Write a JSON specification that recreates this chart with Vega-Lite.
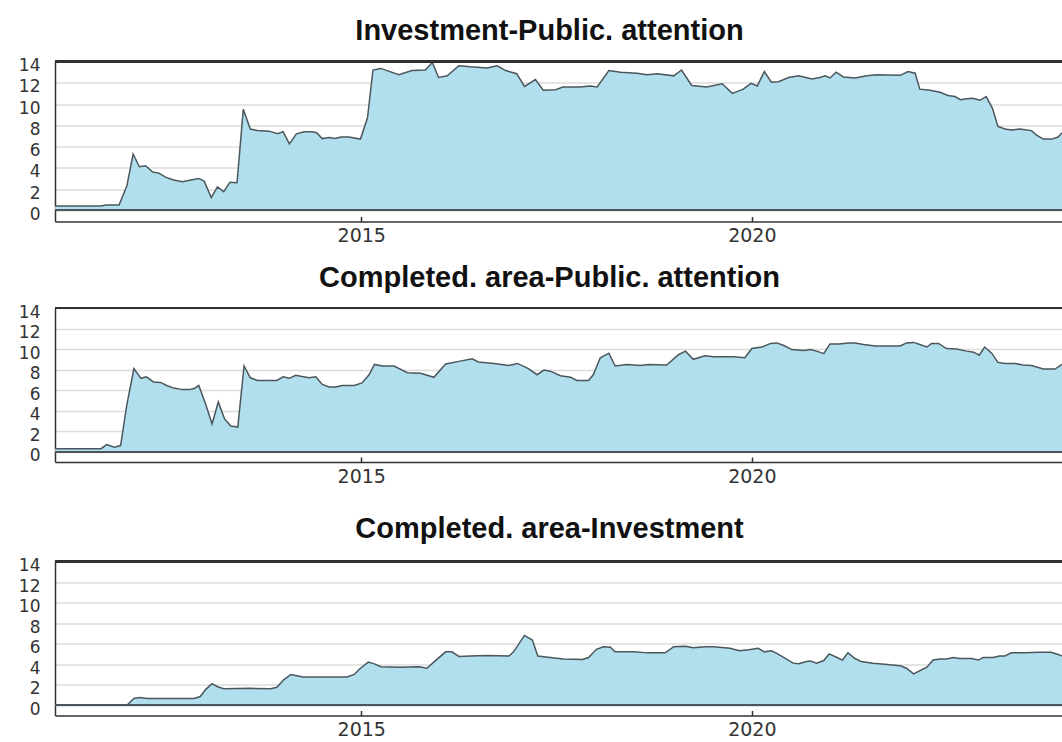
{
  "$schema": "https://vega.github.io/schema/vega-lite/v6.json",
  "background": "white",
  "padding": {"left": 18, "top": 16.5, "right": 0, "bottom": 0},
  "spacing": 18.5,
  "bounds": "full",
  "config": {
    "view": {"stroke": null},
    "title": {"font": "Liberation Sans", "fontSize": 29, "fontWeight": "bold", "color": "#111", "anchor": "middle", "frame": "group", "dx": -9},
    "axisY": {"grid": true, "gridColor": "#dcdcdc", "gridWidth": 1.5, "domain": true, "domainColor": "#333", "domainWidth": 1.5, "ticks": false, "labelFont": "DejaVu Sans", "labelFontSize": 17, "labelColor": "#333", "labelPadding": 15, "labelOffset": 4, "labelBaseline": "middle"},
    "axisX": {"grid": false, "domain": true, "domainColor": "#333", "domainWidth": 1.5, "ticks": true, "tickSize": -5, "tickColor": "#333", "tickWidth": 1.5, "labelFont": "DejaVu Sans", "labelFontSize": 19, "labelColor": "#333", "labelPadding": 10}
  },
  "datasets": {
    "p1": [
      {"t": 2011.08, "v": 0.4}, {"t": 2011.67, "v": 0.4}, {"t": 2011.73, "v": 0.5}, {"t": 2011.90, "v": 0.5}, {"t": 2012.00, "v": 2.3}, {"t": 2012.08, "v": 5.3}, {"t": 2012.16, "v": 4.1}, {"t": 2012.24, "v": 4.2}, {"t": 2012.33, "v": 3.6}, {"t": 2012.41, "v": 3.5}, {"t": 2012.50, "v": 3.1}, {"t": 2012.60, "v": 2.85}, {"t": 2012.71, "v": 2.7}, {"t": 2012.82, "v": 2.85}, {"t": 2012.92, "v": 3.0}, {"t": 2012.99, "v": 2.75}, {"t": 2013.08, "v": 1.2}, {"t": 2013.16, "v": 2.2}, {"t": 2013.24, "v": 1.75}, {"t": 2013.32, "v": 2.65}, {"t": 2013.41, "v": 2.6}, {"t": 2013.49, "v": 9.5}, {"t": 2013.58, "v": 7.65}, {"t": 2013.67, "v": 7.5}, {"t": 2013.82, "v": 7.45}, {"t": 2013.93, "v": 7.2}, {"t": 2014.00, "v": 7.4}, {"t": 2014.08, "v": 6.25}, {"t": 2014.17, "v": 7.2}, {"t": 2014.27, "v": 7.4}, {"t": 2014.37, "v": 7.4}, {"t": 2014.43, "v": 7.3}, {"t": 2014.50, "v": 6.75}, {"t": 2014.59, "v": 6.85}, {"t": 2014.67, "v": 6.75}, {"t": 2014.74, "v": 6.9}, {"t": 2014.84, "v": 6.9}, {"t": 2014.99, "v": 6.7}, {"t": 2015.08, "v": 8.7}, {"t": 2015.15, "v": 13.2}, {"t": 2015.25, "v": 13.35}, {"t": 2015.48, "v": 12.75}, {"t": 2015.65, "v": 13.15}, {"t": 2015.82, "v": 13.2}, {"t": 2015.91, "v": 13.9}, {"t": 2015.99, "v": 12.5}, {"t": 2016.10, "v": 12.65}, {"t": 2016.25, "v": 13.6}, {"t": 2016.40, "v": 13.5}, {"t": 2016.61, "v": 13.4}, {"t": 2016.74, "v": 13.6}, {"t": 2016.85, "v": 13.15}, {"t": 2016.99, "v": 12.85}, {"t": 2017.09, "v": 11.65}, {"t": 2017.23, "v": 12.3}, {"t": 2017.33, "v": 11.3}, {"t": 2017.49, "v": 11.35}, {"t": 2017.58, "v": 11.6}, {"t": 2017.80, "v": 11.6}, {"t": 2017.93, "v": 11.7}, {"t": 2018.02, "v": 11.6}, {"t": 2018.17, "v": 13.15}, {"t": 2018.32, "v": 13.0}, {"t": 2018.53, "v": 12.9}, {"t": 2018.66, "v": 12.75}, {"t": 2018.79, "v": 12.85}, {"t": 2019.00, "v": 12.65}, {"t": 2019.10, "v": 13.2}, {"t": 2019.23, "v": 11.75}, {"t": 2019.42, "v": 11.6}, {"t": 2019.62, "v": 11.9}, {"t": 2019.75, "v": 11.0}, {"t": 2019.89, "v": 11.4}, {"t": 2019.99, "v": 11.95}, {"t": 2020.07, "v": 11.7}, {"t": 2020.16, "v": 13.05}, {"t": 2020.25, "v": 12.05}, {"t": 2020.34, "v": 12.1}, {"t": 2020.47, "v": 12.5}, {"t": 2020.60, "v": 12.65}, {"t": 2020.77, "v": 12.35}, {"t": 2020.87, "v": 12.5}, {"t": 2020.94, "v": 12.65}, {"t": 2021.00, "v": 12.45}, {"t": 2021.08, "v": 13.0}, {"t": 2021.17, "v": 12.55}, {"t": 2021.32, "v": 12.45}, {"t": 2021.47, "v": 12.65}, {"t": 2021.60, "v": 12.75}, {"t": 2021.90, "v": 12.7}, {"t": 2022.00, "v": 13.05}, {"t": 2022.09, "v": 12.9}, {"t": 2022.15, "v": 11.4}, {"t": 2022.28, "v": 11.3}, {"t": 2022.41, "v": 11.1}, {"t": 2022.51, "v": 10.8}, {"t": 2022.60, "v": 10.7}, {"t": 2022.67, "v": 10.4}, {"t": 2022.75, "v": 10.5}, {"t": 2022.83, "v": 10.55}, {"t": 2022.92, "v": 10.35}, {"t": 2023.00, "v": 10.7}, {"t": 2023.08, "v": 9.6}, {"t": 2023.15, "v": 7.9}, {"t": 2023.24, "v": 7.65}, {"t": 2023.33, "v": 7.55}, {"t": 2023.43, "v": 7.65}, {"t": 2023.58, "v": 7.5}, {"t": 2023.64, "v": 7.1}, {"t": 2023.73, "v": 6.7}, {"t": 2023.84, "v": 6.7}, {"t": 2023.92, "v": 6.9}, {"t": 2023.97, "v": 7.3}
    ],
    "p2": [
      {"t": 2011.08, "v": 0.3}, {"t": 2011.67, "v": 0.3}, {"t": 2011.74, "v": 0.7}, {"t": 2011.84, "v": 0.45}, {"t": 2011.92, "v": 0.6}, {"t": 2012.00, "v": 4.6}, {"t": 2012.09, "v": 8.1}, {"t": 2012.18, "v": 7.15}, {"t": 2012.25, "v": 7.3}, {"t": 2012.34, "v": 6.8}, {"t": 2012.43, "v": 6.75}, {"t": 2012.51, "v": 6.45}, {"t": 2012.60, "v": 6.2}, {"t": 2012.71, "v": 6.05}, {"t": 2012.80, "v": 6.05}, {"t": 2012.86, "v": 6.15}, {"t": 2012.92, "v": 6.45}, {"t": 2013.01, "v": 4.6}, {"t": 2013.09, "v": 2.7}, {"t": 2013.17, "v": 4.85}, {"t": 2013.25, "v": 3.2}, {"t": 2013.33, "v": 2.5}, {"t": 2013.42, "v": 2.4}, {"t": 2013.50, "v": 8.35}, {"t": 2013.58, "v": 7.2}, {"t": 2013.67, "v": 6.95}, {"t": 2013.92, "v": 6.95}, {"t": 2014.00, "v": 7.3}, {"t": 2014.08, "v": 7.15}, {"t": 2014.16, "v": 7.45}, {"t": 2014.33, "v": 7.2}, {"t": 2014.42, "v": 7.3}, {"t": 2014.50, "v": 6.55}, {"t": 2014.59, "v": 6.3}, {"t": 2014.67, "v": 6.3}, {"t": 2014.76, "v": 6.45}, {"t": 2014.91, "v": 6.45}, {"t": 2015.01, "v": 6.7}, {"t": 2015.10, "v": 7.5}, {"t": 2015.17, "v": 8.5}, {"t": 2015.27, "v": 8.35}, {"t": 2015.42, "v": 8.35}, {"t": 2015.59, "v": 7.7}, {"t": 2015.76, "v": 7.65}, {"t": 2015.93, "v": 7.25}, {"t": 2016.08, "v": 8.55}, {"t": 2016.25, "v": 8.8}, {"t": 2016.42, "v": 9.05}, {"t": 2016.50, "v": 8.75}, {"t": 2016.70, "v": 8.6}, {"t": 2016.89, "v": 8.4}, {"t": 2017.00, "v": 8.6}, {"t": 2017.14, "v": 8.1}, {"t": 2017.25, "v": 7.5}, {"t": 2017.34, "v": 7.95}, {"t": 2017.42, "v": 7.85}, {"t": 2017.55, "v": 7.4}, {"t": 2017.68, "v": 7.25}, {"t": 2017.76, "v": 6.95}, {"t": 2017.91, "v": 6.95}, {"t": 2017.97, "v": 7.5}, {"t": 2018.06, "v": 9.15}, {"t": 2018.17, "v": 9.6}, {"t": 2018.25, "v": 8.35}, {"t": 2018.40, "v": 8.5}, {"t": 2018.57, "v": 8.4}, {"t": 2018.68, "v": 8.5}, {"t": 2018.91, "v": 8.45}, {"t": 2019.06, "v": 9.45}, {"t": 2019.15, "v": 9.8}, {"t": 2019.25, "v": 9.0}, {"t": 2019.40, "v": 9.35}, {"t": 2019.51, "v": 9.25}, {"t": 2019.77, "v": 9.25}, {"t": 2019.91, "v": 9.15}, {"t": 2020.00, "v": 10.05}, {"t": 2020.13, "v": 10.2}, {"t": 2020.24, "v": 10.55}, {"t": 2020.32, "v": 10.6}, {"t": 2020.41, "v": 10.35}, {"t": 2020.51, "v": 9.95}, {"t": 2020.66, "v": 9.85}, {"t": 2020.75, "v": 9.95}, {"t": 2020.83, "v": 9.8}, {"t": 2020.92, "v": 9.55}, {"t": 2021.00, "v": 10.5}, {"t": 2021.11, "v": 10.5}, {"t": 2021.24, "v": 10.6}, {"t": 2021.32, "v": 10.6}, {"t": 2021.43, "v": 10.45}, {"t": 2021.58, "v": 10.3}, {"t": 2021.90, "v": 10.3}, {"t": 2021.98, "v": 10.6}, {"t": 2022.07, "v": 10.65}, {"t": 2022.15, "v": 10.45}, {"t": 2022.24, "v": 10.2}, {"t": 2022.30, "v": 10.55}, {"t": 2022.39, "v": 10.55}, {"t": 2022.49, "v": 10.05}, {"t": 2022.62, "v": 10.0}, {"t": 2022.75, "v": 9.8}, {"t": 2022.84, "v": 9.7}, {"t": 2022.91, "v": 9.4}, {"t": 2022.98, "v": 10.2}, {"t": 2023.07, "v": 9.6}, {"t": 2023.15, "v": 8.7}, {"t": 2023.24, "v": 8.6}, {"t": 2023.37, "v": 8.6}, {"t": 2023.47, "v": 8.45}, {"t": 2023.58, "v": 8.4}, {"t": 2023.73, "v": 8.05}, {"t": 2023.88, "v": 8.05}, {"t": 2023.97, "v": 8.5}
    ],
    "p3": [
      {"t": 2011.08, "v": 0}, {"t": 2011.84, "v": 0}, {"t": 2011.92, "v": 0.05}, {"t": 2012.00, "v": 0}, {"t": 2012.09, "v": 0.65}, {"t": 2012.16, "v": 0.75}, {"t": 2012.26, "v": 0.65}, {"t": 2012.86, "v": 0.65}, {"t": 2012.94, "v": 0.85}, {"t": 2013.01, "v": 1.55}, {"t": 2013.09, "v": 2.1}, {"t": 2013.16, "v": 1.8}, {"t": 2013.24, "v": 1.6}, {"t": 2013.58, "v": 1.65}, {"t": 2013.84, "v": 1.6}, {"t": 2013.92, "v": 1.75}, {"t": 2014.01, "v": 2.5}, {"t": 2014.10, "v": 3.0}, {"t": 2014.16, "v": 2.9}, {"t": 2014.25, "v": 2.75}, {"t": 2014.82, "v": 2.75}, {"t": 2014.91, "v": 3.0}, {"t": 2014.99, "v": 3.6}, {"t": 2015.09, "v": 4.2}, {"t": 2015.16, "v": 4.05}, {"t": 2015.25, "v": 3.75}, {"t": 2015.50, "v": 3.7}, {"t": 2015.74, "v": 3.75}, {"t": 2015.84, "v": 3.6}, {"t": 2015.95, "v": 4.35}, {"t": 2016.08, "v": 5.2}, {"t": 2016.16, "v": 5.2}, {"t": 2016.25, "v": 4.75}, {"t": 2016.40, "v": 4.8}, {"t": 2016.61, "v": 4.85}, {"t": 2016.89, "v": 4.8}, {"t": 2016.95, "v": 5.2}, {"t": 2017.09, "v": 6.8}, {"t": 2017.19, "v": 6.35}, {"t": 2017.26, "v": 4.8}, {"t": 2017.42, "v": 4.65}, {"t": 2017.59, "v": 4.5}, {"t": 2017.83, "v": 4.45}, {"t": 2017.91, "v": 4.65}, {"t": 2018.01, "v": 5.45}, {"t": 2018.10, "v": 5.7}, {"t": 2018.19, "v": 5.65}, {"t": 2018.25, "v": 5.2}, {"t": 2018.49, "v": 5.2}, {"t": 2018.66, "v": 5.1}, {"t": 2018.89, "v": 5.1}, {"t": 2019.00, "v": 5.7}, {"t": 2019.15, "v": 5.75}, {"t": 2019.25, "v": 5.6}, {"t": 2019.40, "v": 5.7}, {"t": 2019.51, "v": 5.7}, {"t": 2019.72, "v": 5.55}, {"t": 2019.84, "v": 5.3}, {"t": 2019.96, "v": 5.4}, {"t": 2020.08, "v": 5.55}, {"t": 2020.16, "v": 5.2}, {"t": 2020.25, "v": 5.3}, {"t": 2020.32, "v": 5.05}, {"t": 2020.53, "v": 4.1}, {"t": 2020.60, "v": 4.05}, {"t": 2020.70, "v": 4.25}, {"t": 2020.75, "v": 4.3}, {"t": 2020.83, "v": 4.1}, {"t": 2020.92, "v": 4.35}, {"t": 2020.99, "v": 5.0}, {"t": 2021.09, "v": 4.65}, {"t": 2021.16, "v": 4.4}, {"t": 2021.23, "v": 5.1}, {"t": 2021.32, "v": 4.55}, {"t": 2021.40, "v": 4.25}, {"t": 2021.55, "v": 4.1}, {"t": 2021.70, "v": 4.0}, {"t": 2021.90, "v": 3.85}, {"t": 2021.98, "v": 3.6}, {"t": 2022.07, "v": 3.05}, {"t": 2022.24, "v": 3.7}, {"t": 2022.32, "v": 4.4}, {"t": 2022.41, "v": 4.5}, {"t": 2022.49, "v": 4.5}, {"t": 2022.58, "v": 4.65}, {"t": 2022.66, "v": 4.55}, {"t": 2022.81, "v": 4.55}, {"t": 2022.90, "v": 4.4}, {"t": 2022.96, "v": 4.65}, {"t": 2023.09, "v": 4.65}, {"t": 2023.17, "v": 4.8}, {"t": 2023.24, "v": 4.8}, {"t": 2023.32, "v": 5.1}, {"t": 2023.49, "v": 5.1}, {"t": 2023.68, "v": 5.15}, {"t": 2023.83, "v": 5.15}, {"t": 2023.94, "v": 4.9}, {"t": 2023.97, "v": 4.8}
    ]
  },
  "vconcat": [
    {
      "title": {"text": "Investment-Public. attention", "offset": 10.75},
      "width": 1007, "height": 160,
      "data": {"name": "p1"},
      "layer": [
        {"mark": {"type": "area", "color": "#b2dfee", "opacity": 1, "line": {"color": "#4b575c", "strokeWidth": 1.5}},
         "encoding": {
           "x": {"field": "t", "type": "quantitative", "scale": {"domain": [2011.08, 2023.97], "nice": false, "zero": false}, "axis": {"title": null, "values": [2015, 2020], "format": "d", "labelOverlap": false}},
           "y": {"field": "v", "type": "quantitative", "scale": {"domain": [-1.05, 14], "nice": false, "zero": false}, "axis": {"title": null, "values": [0, 2, 4, 6, 8, 10, 12, 14], "labelOverlap": false}},
           "y2": {"datum": 0}}},
        {"mark": {"type": "rule", "color": "#4b575c", "strokeWidth": 1.5}, "encoding": {"y": {"datum": 0, "type": "quantitative", "axis": {"title": null, "values": [0, 2, 4, 6, 8, 10, 12, 14], "labelOverlap": false}}}},
        {"mark": {"type": "rule", "color": "#333", "strokeWidth": 1.5}, "encoding": {"y": {"datum": 14, "type": "quantitative", "axis": {"title": null, "values": [0, 2, 4, 6, 8, 10, 12, 14], "labelOverlap": false}}}}
      ]
    },
    {
      "title": {"text": "Completed. area-Public. attention", "offset": 9.75},
      "width": 1007, "height": 154,
      "data": {"name": "p2"},
      "layer": [
        {"mark": {"type": "area", "color": "#b2dfee", "opacity": 1, "line": {"color": "#4b575c", "strokeWidth": 1.5}},
         "encoding": {
           "x": {"field": "t", "type": "quantitative", "scale": {"domain": [2011.08, 2023.97], "nice": false, "zero": false}, "axis": {"title": ".", "titleOpacity": 0, "titleFontSize": 9.5, "titlePadding": 0, "values": [2015, 2020], "format": "d", "labelOverlap": false}},
           "y": {"field": "v", "type": "quantitative", "scale": {"domain": [-1, 14], "nice": false, "zero": false}, "axis": {"title": null, "values": [0, 2, 4, 6, 8, 10, 12, 14], "labelOverlap": false}},
           "y2": {"datum": 0}}},
        {"mark": {"type": "rule", "color": "#4b575c", "strokeWidth": 1.5}, "encoding": {"y": {"datum": 0, "type": "quantitative", "axis": {"title": null, "values": [0, 2, 4, 6, 8, 10, 12, 14], "labelOverlap": false}}}},
        {"mark": {"type": "rule", "color": "#333", "strokeWidth": 1.5}, "encoding": {"y": {"datum": 14, "type": "quantitative", "axis": {"title": null, "values": [0, 2, 4, 6, 8, 10, 12, 14], "labelOverlap": false}}}}
      ]
    },
    {
      "title": {"text": "Completed. area-Investment", "offset": 12.25},
      "width": 1007, "height": 154,
      "data": {"name": "p3"},
      "layer": [
        {"mark": {"type": "area", "color": "#b2dfee", "opacity": 1, "line": {"color": "#4b575c", "strokeWidth": 1.5}},
         "encoding": {
           "x": {"field": "t", "type": "quantitative", "scale": {"domain": [2011.08, 2023.97], "nice": false, "zero": false}, "axis": {"title": null, "values": [2015, 2020], "format": "d", "labelOverlap": false}},
           "y": {"field": "v", "type": "quantitative", "scale": {"domain": [-1, 14], "nice": false, "zero": false}, "axis": {"title": null, "values": [0, 2, 4, 6, 8, 10, 12, 14], "labelOverlap": false}},
           "y2": {"datum": 0}}},
        {"mark": {"type": "rule", "color": "#4b575c", "strokeWidth": 1.5}, "encoding": {"y": {"datum": 0, "type": "quantitative", "axis": {"title": null, "values": [0, 2, 4, 6, 8, 10, 12, 14], "labelOverlap": false}}}},
        {"mark": {"type": "rule", "color": "#333", "strokeWidth": 1.5}, "encoding": {"y": {"datum": 14, "type": "quantitative", "axis": {"title": null, "values": [0, 2, 4, 6, 8, 10, 12, 14], "labelOverlap": false}}}}
      ]
    }
  ]
}
